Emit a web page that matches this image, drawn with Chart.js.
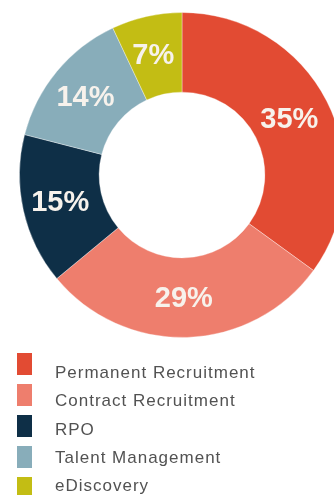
<!DOCTYPE html>
<html>
<head>
<meta charset="utf-8">
<script src="https://cdn.jsdelivr.net/npm/chart.js@4/dist/chart.umd.min.js"></script>
<style>
  html, body { margin: 0; padding: 0; background: #ffffff; overflow: hidden; }
  #wrap { width: 334px; height: 495px; overflow: hidden; position: relative; }
  canvas { display: block; }
</style>
</head>
<body>
<div id="wrap"><canvas id="c" width="364" height="495"></canvas></div>
<script>
// Revenue split by service line (percent)
const categories = ['Permanent Recruitment', 'Contract Recruitment', 'RPO', 'Talent Management', 'eDiscovery'];
const shares = [35, 29, 15, 14, 7];
const sliceColors = ['#E24B33', '#EE7E6D', '#0E2F47', '#88ADBA', '#C3BD14'];

// Percent labels in the middle of each ring segment
const sliceLabels = {
  id: 'sliceLabels',
  afterDatasetsDraw(chart) {
    const ctx = chart.ctx;
    const meta = chart.getDatasetMeta(0);
    ctx.save();
    ctx.font = 'bold 29px "Liberation Sans", Arial, sans-serif';
    ctx.fillStyle = '#F7F2EC';
    ctx.textAlign = 'center';
    ctx.textBaseline = 'middle';
    meta.data.forEach((arc, i) => {
      const p = arc.tooltipPosition();
      ctx.fillText(chart.data.datasets[0].data[i] + '%', p.x - 2, p.y + 1);
    });
    ctx.restore();
  }
};

// Stacked legend below the ring
const sideLegend = {
  id: 'sideLegend',
  afterDraw(chart) {
    const ctx = chart.ctx;
    const ds = chart.data.datasets[0];
    ctx.save();
    ctx.font = '17px "Liberation Sans", Arial, sans-serif';
    ctx.letterSpacing = '1px';
    ctx.textAlign = 'left';
    ctx.textBaseline = 'alphabetic';
    chart.data.labels.forEach((label, i) => {
      const boxTop = 353 + i * 31;
      ctx.fillStyle = ds.backgroundColor[i];
      ctx.fillRect(17, boxTop, 15, 22);
      ctx.fillStyle = '#525252';
      ctx.fillText(label, 55, 378 + i * 28.3);
    });
    ctx.restore();
  }
};

new Chart(document.getElementById('c'), {
  type: 'doughnut',
  data: {
    labels: categories,
    datasets: [{
      data: shares,
      backgroundColor: sliceColors,
      borderColor: 'rgba(255,255,255,0.35)',
      borderWidth: 1
    }]
  },
  options: {
    responsive: false,
    animation: false,
    cutout: '51%',
    layout: { padding: { left: 19, right: 19, top: 12, bottom: 157 } },
    plugins: {
      legend: { display: false },
      tooltip: { enabled: false }
    }
  },
  plugins: [sliceLabels, sideLegend]
});
</script>
</body>
</html>
